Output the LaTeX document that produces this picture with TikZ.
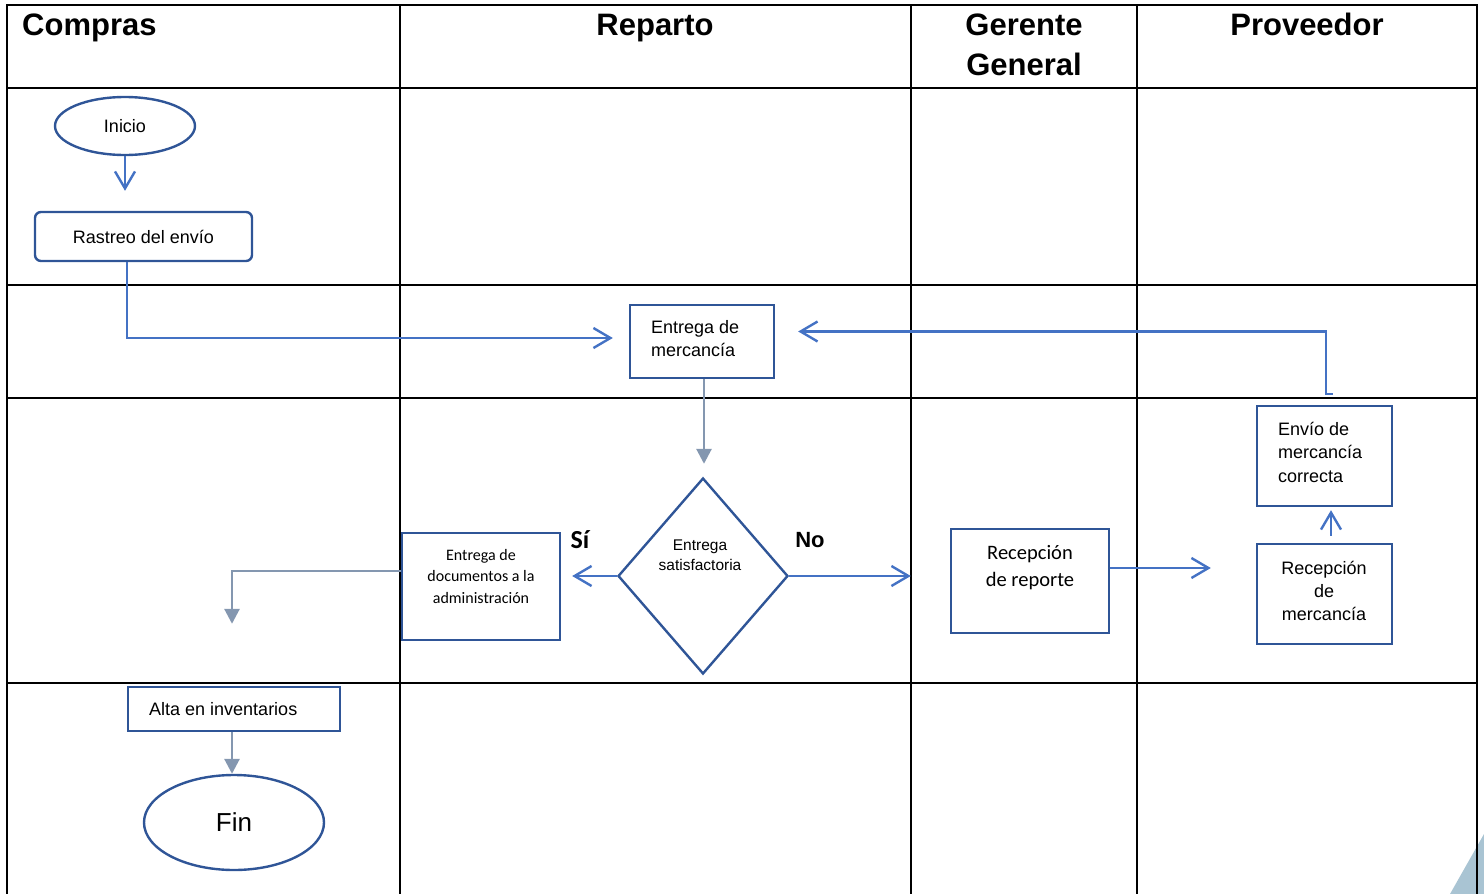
\documentclass[tikz,border=0pt]{standalone}
\usepackage{fontspec}
\setmainfont{Liberation Sans}
\newfontfamily\calibrifont{Carlito}
\usetikzlibrary{arrows.meta,shapes.geometric}

\definecolor{shapeblue}{HTML}{2F5597}
\definecolor{flowblue}{HTML}{4472C4}
\definecolor{flowgray}{HTML}{8497B0}
\definecolor{cornerfill}{HTML}{A9C4D3}

\newcommand{\fsz}[2]{\fontsize{#1}{#2}\selectfont}

\begin{document}
\begin{tikzpicture}[x=1pt,y=-1pt,
  grid/.style={line width=2.8pt, black, line cap=rect},
  lanehead/.style={font=\bfseries\fsz{31}{40}, inner sep=0pt},
  procbox/.style={draw=shapeblue, line width=2.4pt, rectangle, inner sep=0pt},
  termnode/.style={draw=shapeblue, line width=2.4pt, ellipse, inner sep=0pt},
  decide/.style={draw=shapeblue, line width=2.4pt, diamond, inner sep=0pt},
  boxtext/.style={inner sep=0pt, font=\fsz{18}{23}},
  openflow/.style={draw=flowblue, line width=2.4pt, -{Straight Barb[length=17pt,width=20pt]}},
  grayflow/.style={draw=flowgray, line width=2.8pt, -{Triangle[length=15pt,width=15pt]}},
]
\useasboundingbox (0,0) rectangle (1484,894);

% corner mark behind the frame
\fill[cornerfill] (1450,894) -- (1484,834) -- (1484,894) -- cycle;

% swimlane grid
\foreach \yy in {5,88,285,398,683}
  \draw[grid] (7,\yy) -- (1477,\yy);
\foreach \xx in {7,400,911,1137,1477}
  \draw[grid] (\xx,5) -- (\xx,900);

% lane titles
\node[lanehead, anchor=base west] (hcompras) at (22,35) {Compras};
\node[lanehead, anchor=base] (hreparto) at (655,35) {Reparto};
\node[lanehead, anchor=north, align=center] (hgerente) at (1024,13.5) {Gerente\\General};
\node[lanehead, anchor=base] (hproveedor) at (1307,35) {Proveedor};

% shapes
\node[termnode, minimum width=140pt, minimum height=58pt, font=\fsz{18}{22}] (inicio) at (125,126) {Inicio};
\node[procbox, rounded corners=6pt, minimum width=217pt, minimum height=49pt, font=\fsz{18}{22}] (rastreo) at (143.5,236.5) {Rastreo del envío};

\node[procbox, minimum width=144pt, minimum height=73pt] (entrega) at (702,341.5) {};
\node[boxtext, anchor=west, align=left] (entregatxt) at (651,338.5) {Entrega de\\mercancía};

\node[decide, minimum width=170pt, minimum height=196pt] (decision) at (703,576) {};
\node[inner sep=0pt, align=center, font=\fsz{15.5}{20}] (decisiontxt) at (700,555) {Entrega\\satisfactoria};

\node[inner sep=0pt, font=\calibrifont\bfseries\fsz{26}{30}] (si) at (580,540) {Sí};
\node[inner sep=0pt, font=\bfseries\fsz{22}{26}] (no) at (810,540) {No};

\node[procbox, minimum width=158pt, minimum height=107pt] (docs) at (481,586.5) {};
\node[inner sep=0pt, align=center, font=\calibrifont\fsz{16}{21.5}] (docstxt) at (481,576) {Entrega de\\documentos a la\\administración};

\node[procbox, minimum width=158pt, minimum height=104pt] (reporte) at (1030,581) {};
\node[inner sep=0pt, align=center, font=\calibrifont\fsz{20.5}{27}] (reportetxt) at (1030,568) {Recepción\\de reporte};

\node[procbox, minimum width=135pt, minimum height=100pt] (recmerc) at (1324.5,594) {};
\node[boxtext, align=center] (recmerctxt) at (1324,590.5) {Recepción\\de\\mercancía};

\node[procbox, minimum width=135pt, minimum height=100pt] (envio) at (1324.5,456) {};
\node[boxtext, anchor=west, align=left, font=\fsz{18}{23.5}] (enviotxt) at (1278,452) {Envío de\\mercancía\\correcta};

\node[procbox, minimum width=212pt, minimum height=44pt] (alta) at (234,709) {};
\node[boxtext, anchor=west] (altatxt) at (149,709.5) {Alta en inventarios};

\node[termnode, minimum width=180pt, minimum height=95pt, font=\fsz{26}{30}] (fin) at (234,822.5) {Fin};

% connectors
\draw[openflow, shorten >=20pt] (inicio.south) -- (inicio.south |- rastreo.north);
\draw[openflow, shorten >=16pt] ([xshift=-16.5pt]rastreo.south) |- ([yshift=3.5pt]entrega.west);
\draw[grayflow, shorten >=13pt] ([xshift=2pt]entrega.south) -- ([xshift=1pt]decision.north);
\draw[openflow, shorten >=11pt] (decision.west) -- (decision.west -| docs.east);
\draw[grayflow, shorten >=62pt] ([yshift=15.5pt]docs.west) -| ([xshift=-2pt]alta.north);
\draw[openflow, shorten >=39pt] (decision.east) -- (decision.east -| reporte.west);
\draw[openflow, shorten >=45pt] ([yshift=13pt]reporte.east) -- ([yshift=13pt]reporte.east -| recmerc.west);
\draw[openflow, shorten <=7pt, shorten >=3pt] ([xshift=6.5pt]recmerc.north) -- ([xshift=6.5pt]envio.south);
\draw[openflow, shorten >=23pt] ([xshift=8.5pt,yshift=11pt]envio.north) -- ++(-7,0) |- ([yshift=10pt]entrega.east);
\draw[grayflow] ([xshift=-2pt]alta.south) -- ([xshift=-2pt]alta.south |- fin.north);

\end{tikzpicture}
\end{document}
